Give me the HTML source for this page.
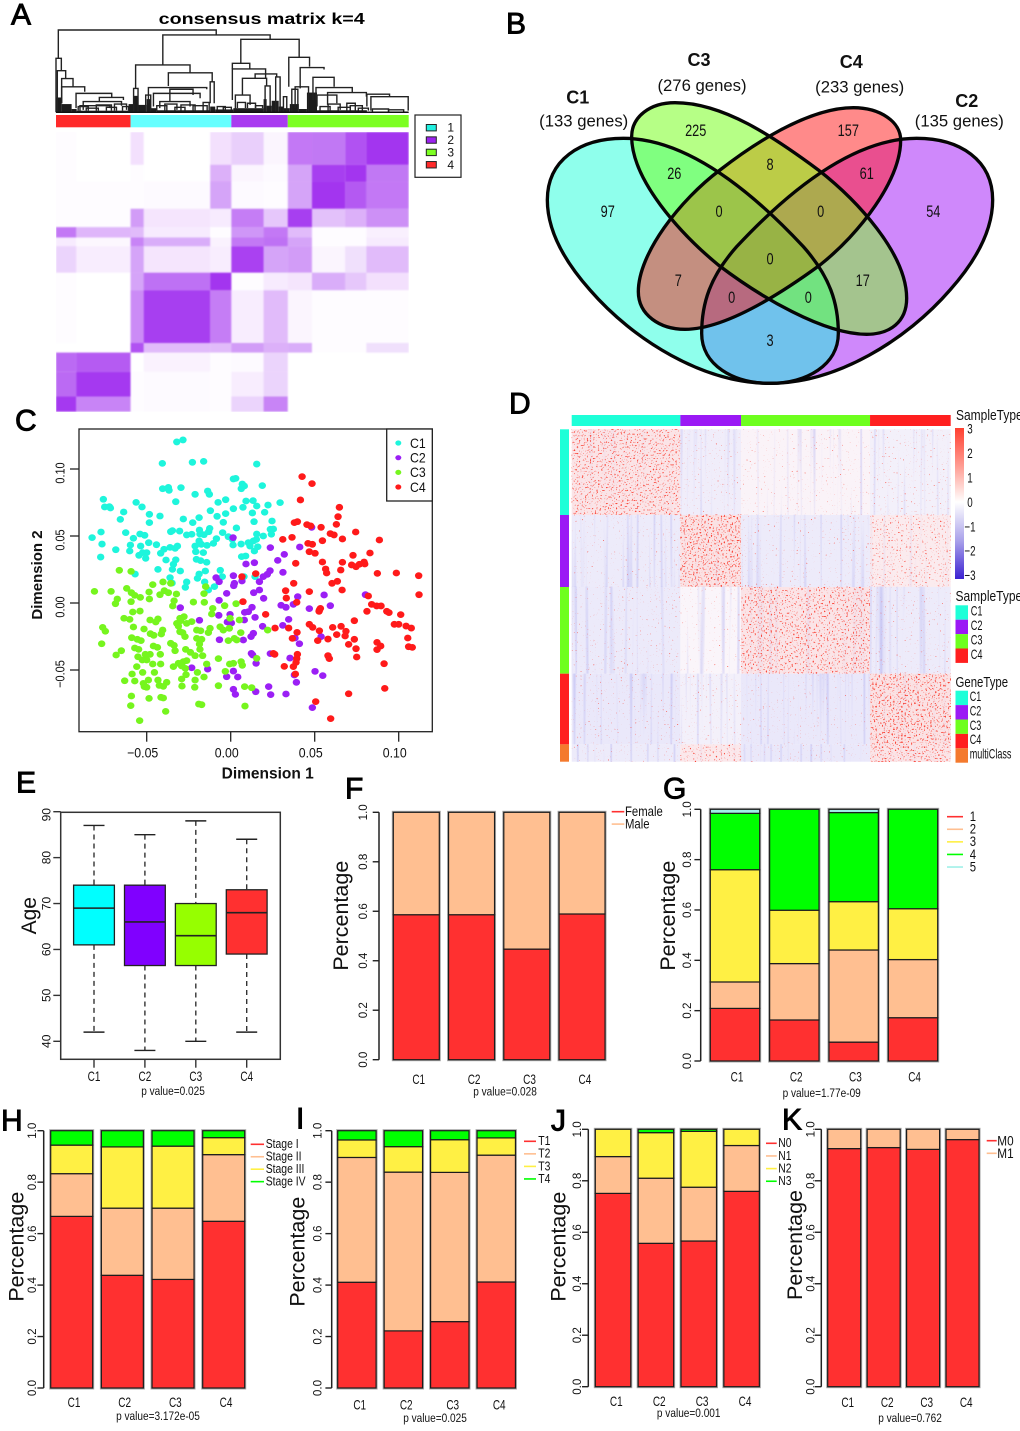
<!DOCTYPE html>
<html lang="en">
<head>
<meta charset="utf-8">
<title>Consensus clustering figure</title>
<style>
html,body{margin:0;padding:0;background:#fff;}
svg{display:block;font-family:"Liberation Sans",sans-serif;}
.letter{font-size:30px;fill:#000;stroke:#000;stroke-width:.9px;dominant-baseline:central;}
</style>
</head>
<body>
<svg id="fig" xmlns="http://www.w3.org/2000/svg" width="1020" height="1431" viewBox="0 0 1020 1431">
  <defs id="defs">
    <linearGradient id="cbar" x1="0" y1="0" x2="0" y2="1">
      <stop offset="0" stop-color="#ff4030"/>
      <stop offset=".25" stop-color="#ff9c92"/>
      <stop offset=".49" stop-color="#ffffff"/>
      <stop offset=".75" stop-color="#a8a0ea"/>
      <stop offset="1" stop-color="#3c22d2"/>
    </linearGradient>
    <filter id="soft" x="0" y="0" width="1" height="1"><feGaussianBlur stdDeviation=".7"/></filter>
  </defs>
  <rect x="0" y="0" width="1020" height="1431" fill="#fff"/>

  <text class="letter" x="11" y="15">A</text>
  <text class="letter" x="506" y="24">B</text>
  <text class="letter" x="15" y="421">C</text>
  <text class="letter" x="509" y="404">D</text>
  <text class="letter" x="16" y="783">E</text>
  <text class="letter" x="345" y="789">F</text>
  <text class="letter" x="663" y="789">G</text>
  <text class="letter" x="1" y="1121">H</text>
  <text class="letter" x="296" y="1119">I</text>
  <text class="letter" x="551" y="1121">J</text>
  <text class="letter" x="782" y="1120">K</text>

  <g id="panelA">
    <text x="261.7" y="19.5" text-anchor="middle" font-weight="bold" font-size="16" textLength="206" lengthAdjust="spacingAndGlyphs" dominant-baseline="central">consensus matrix k=4</text>
  </g>
  <g id="panelB"></g>
  <g id="panelC"></g>
  <g id="panelD"></g>
  <g id="panelE"></g>
  <g id="panelF"></g>
  <g id="panelG"></g>
  <g id="panelH"></g>
  <g id="panelI"></g>
  <g id="panelJ"></g>
  <g id="panelK"></g>
</svg>

<script>
/* ---------- data: shared ---------- */
const clusterLabels = ['C1', 'C2', 'C3', 'C4'];
const percentTicks = [0, 0.2, 0.4, 0.6, 0.8, 1];
const percentTickLabels = ['0.0', '0.2', '0.4', '0.6', '0.8', '1.0'];

/* ---------- data: panel A ---------- */
const consensusColumnEdges = [0, 20, 74, 87, 153, 174, 206, 230, 254, 287, 308, 350];
const consensusRowEdges = [0, 41, 62, 96, 119, 132, 143, 176, 198, 264, 276, 300, 331, 350];
const consensusRow0 = [.01, 0, .12, 0, .12, .22, .04, .6, .62, .78, .92];
const consensusRow1 = [.01, 0, .01, 0, .35, .04, .02, .42, .88, .92, .62];
const consensusRow2 = [.01, .01, .01, .02, .42, .02, .01, .42, .92, .75, .6];
const consensusRow3 = [.01, .01, .45, .1, .08, .58, .25, .88, .28, .35, .5];
const consensusRow4 = [.6, .32, .3, .08, .01, .48, .6, .3, .01, .01, .06];
const consensusRow5 = [.08, .03, .55, .38, .05, .6, .65, .42, .01, .01, .08];
const consensusRow6 = [.2, .07, .42, .1, .07, .85, .42, .45, .04, .15, .3];
const consensusRow7 = [.01, 0, .42, .65, .92, .01, .08, .1, .38, .25, .12];
const consensusRow8 = [.01, 0, .52, .88, .58, .07, .3, .04, .01, .01, .01];
const consensusRow9 = [0, 0, .78, .3, .3, .45, .35, .38, .01, .01, .15];
const consensusRow10 = [.68, .74, 0, .05, .01, .02, .2, 0, 0, 0, 0];
const consensusRow11 = [.68, .9, .01, .02, .01, .07, .2, 0, 0, 0, 0];
const consensusRow12 = [.9, .55, .01, .02, .01, .2, .55, 0, 0, 0, 0];
const consensusGroupEdges = [0, 74, 174, 230, 350];
const consensusGroupColors = ['#ff2a2a', '#66ffff', '#a93bf0', '#7dff22'];
const consensusLegendLabels = ['1', '2', '3', '4'];
const consensusLegendColors = ['#22f0e0', '#9b22ee', '#7dff22', '#ff2a2a'];
/* dendrogram merges: [left sample, right sample, merge height, left child height, right child height] */
const dendroMerges = [
  [2.3,159,100,65.6,94],[106,212.5,94,57.5,88.7],[183.4,241.3,88.7,59.5,66.8],[79,133,57.5,29,48],
  [111.5,155,48,32,37],[175,192.3,59.5,52.7,52.7],[175,208,52.7,15,41],[185,209,41.3,21,32],
  [197.6,219,46.6,41.3,42.5],[231,251.6,66.8,31,55.5],[242.3,266,54.3,29,52],[255,276,42.5,15,31],
  [258,294,30,15,24],[269.5,308,24,9,19],[308.5,331,22,7,19],[312.5,349.5,19,2,2],
  [0,5.3,65.6,0,50.6],[1.3,9.6,50.6,0,41.3],[5.6,16.9,41,11,31],[5.6,28.5,31,11,25],
  [19.9,55.3,23,5,18],[43,66.9,18,13,15],[27,65,13,3,8],[23.8,53.6,8,1,5],
  [91.7,149.6,30,11,28],[96.7,143,23,7,17],[113,136,28,13,21],[103,133,13,5,7],
  [77,81.4,29,0,0],[89,94,21,0,0],[153,157,37,11,11],[178,192.6,21,3,9],
  [207.5,212.5,32,0,7],[218,222.4,43,0,0],[225.7,229,19,0,0],[234,240,28,0,0],
  [237.3,250.6,31,5,0],[259,278.7,21,7,11],[288.6,297,11,0,0],
  [22,32,7,2,2],[30,42,5,2,2],[40,55,9,2,2],[50,60,6,2,2],[58,70,10,2,3],[66,72,7,2,2],
  [100,110,8,2,2],[108,120,10,2,3],[118,128,6,2,2],[124,138,9,2,2],[136,150,8,2,2],[146,152,12,2,2],
  [160,168,7,3,3],[166,174,6,3,3],[180,188,12,5,5],[190,198,11,5,5],[198,205,8,5,5],
  [262,272,7,2,2],[270,282,10,2,3],[280,292,6,2,2],[292,304,8,2,2],[300,310,5,2,2],
  [314,330,4,1,1],[330,345,3,1,1]
];
/* dense low merges: [start sample, end sample, height] */
const dendroFine = [
  [0,5.6,18],[5.6,15.5,10],[15.5,20.5,4],[20.5,72,2],[72,77,10],[77,81.4,20],[81.4,90,9],[90,94,16],
  [94,100,5],[100,153,2.5],[153,158,7],[158,176,3.5],[176,206,5],[206,209,16],[209,214,8],[214,221,14],
  [221,226,7],[226,232,5],[232,241,10],[241,249,4],[249,259,24],[259,308.5,2.5],[308.5,349.5,1]
];

/* ---------- data: panel B ---------- */
const vennRegionSets = [
  ['C1'], ['C2'], ['C3'], ['C4'],
  ['C1','C3'], ['C3','C4'], ['C4','C2'], ['C1','C4'], ['C3','C2'], ['C1','C2'],
  ['C1','C3','C4'], ['C3','C4','C2'], ['C1','C4','C2'], ['C1','C3','C2'],
  ['C1','C3','C4','C2']
];
const vennRegionCounts = [97, 54, 225, 157, 26, 8, 61, 7, 17, 3, 0, 0, 0, 0, 0];
const vennRegionColors = ['#8fffec','#cf88fb','#b6ff86','#ff8a8a','#80ff80','#bccc47','#e94f8f','#c48f80','#a4c48e','#70c2ec','#9cc54a','#ada94f','#b76a7f','#72e280','#98b345'];
const vennSetNames = ['C1', 'C3', 'C4', 'C2'];
const vennSetSizes = [133, 276, 233, 135];

/* ---------- data: panel C, in thousandths of a dimension unit, [dimension 1, dimension 2] ---------- */
const c1Points = [[-32.1,120.2],[-28.4,121.7],[-40.7,104.2],[-22.8,105],[-16.1,105.7],[15.5,103.7],[1.6,92.6],[3,93],[6.9,88.8],[8.1,87.3],[6.3,85.3],[18.8,87.6],[-40.5,85.3],[-37.1,86.3],[-36.7,84.1],[-29.6,86.1],[-21.2,81.1],[-13.7,83.6],[-12.7,81.1],[-32.7,75.6],[-7.5,75.1],[-3,77.1],[9.1,76.1],[13.3,76.4],[15.5,72.4],[22.2,73.1],[29.4,74.9],[-75.8,77.4],[-75,71.7],[-72.2,71.9],[-71.6,70.9],[-63.7,67.9],[-65.7,62.4],[-56.3,75.1],[-52.8,71.7],[-48.4,66.2],[-42.1,64.9],[-48.4,60],[-28.2,62.7],[-22.6,60],[-18.8,63.7],[-12.1,68.9],[-8.1,64.7],[-3,66.7],[1.6,70.4],[7.3,71.4],[12.9,67.2],[20.2,67.7],[13.9,60.7],[24.6,61.2],[-4.4,60.2],[-77.2,53],[-82.5,48.8],[-76.6,44],[-77.4,34.3],[-68.4,39.8],[-62.5,52.5],[-57.9,48.3],[-54,51.5],[-51.2,50.5],[-48.8,45],[-44.2,43.5],[-59.7,43.3],[-60.1,38.8],[-53.6,42.5],[-52.4,37.6],[-50,37.6],[-54.6,35.6],[-50.6,33.3],[-41.7,37.1],[-39.7,40.1],[-36.1,41.5],[-31.7,42.5],[-33.1,40.8],[-35.7,53.2],[-34.7,54],[-30.4,53.7],[-26.2,50.8],[-23.2,51.3],[-18.6,54.5],[-18.3,51.5],[-15.9,51],[-12.5,55.7],[-13.1,53.2],[-8.5,48],[-4.8,52.5],[-1.4,49.5],[3.4,56],[23.6,55],[25.4,55.2],[24.2,51.3],[15.5,51.5],[15.3,47.5],[19.4,50],[13.5,46.3],[-18.8,46.3],[-17.5,43.8],[-21.2,42.5],[-14.1,43],[-10.3,44.5],[-16.3,37.6],[-20.8,38.3],[-20.4,32.6],[-17.9,31.6],[-14.3,30.4],[-38.5,32.1],[-32.7,32.3],[-34.1,28.9],[-43.3,25.1],[-34.7,25.1],[-30,23.9],[-56.9,21.6],[-36.1,18.9],[-34.9,14.9],[-26.2,15.7],[-27,11.7],[-18.8,21.6],[-19.8,18.4],[-15.5,15.7],[-15.1,23.9],[-13.3,9.7],[-9.7,12.2],[-6.2,24.4],[-5,19.7],[7.9,19.7],[14.5,19.7],[1.4,43.3],[6.2,44],[10.5,45],[11.5,42.5],[16.1,42],[14.1,38.8],[6.5,34.6],[8.9,35.1],[1,47.5]];
const c2Points = [[1.4,48.8],[48.2,56.5],[23.6,41.3],[41.1,41.8],[31.9,36.3],[28,31.8],[14.1,30.1],[9.1,29.1],[31.1,22.9],[23.4,24.1],[21.8,21.4],[19.4,19.7],[17.1,15.9],[1.6,20.4],[6.7,16.4],[2.2,14.7],[1.8,12.9],[-8.7,18.9],[-6.9,15.9],[-2.4,7.2],[13.7,7.7],[17.1,9.7],[19.6,3.5],[39.9,4.7],[55.6,6],[80.2,6.2],[-6.9,2],[-30,-3.5],[-18.6,-12.9],[-.4,-8.5],[-2,-14.2],[.4,-14.9],[-7.1,-9.2],[8.3,-7],[10.5,-6.5],[12.7,-3.2],[8.1,-12.7],[14.5,-10.7],[30,-1.7],[32.9,-3.2],[37.3,-1],[46.8,-4.2],[59.3,-2],[34.5,-12.2],[31,-16.7],[19,-17.4],[13.5,-22.6],[12.1,-25.1],[7.5,-27.6],[-6.7,-27.4],[38.3,-26.1],[40.9,-30.4],[53.8,-25.1],[12.3,-37.6],[13.1,-38.8],[23.6,-37.8],[35.3,-41.1],[15.1,-45],[-23.2,-48.3],[-13.7,-49.3],[1.6,-50.8],[-2.4,-55],[4.2,-55.2],[37.9,-53.7],[39.1,-59.2],[50.2,-51],[54.8,-54.2],[1.6,-64.4],[2.8,-68.2],[14.9,-66.2],[22.6,-62.4],[23.8,-68.4],[32.9,-67.9],[48.6,-78.1]];
const c3Points = [[-66.3,24.4],[-59.3,23.6],[-81.1,8.7],[-71.2,8.7],[-61.9,10.9],[-59.1,7.7],[-57.1,5.7],[-53.8,4.2],[-67.5,3],[-68.6,-.5],[-59.3,1],[-48.6,8.2],[-46.4,13.7],[-40.3,15.7],[-35.7,14.7],[-39.5,9.2],[-37.1,7.7],[-42.1,6.2],[-48.4,3],[-32.3,6.7],[-33.7,1.7],[-34.5,-2.2],[-22.2,.7],[-15.7,.5],[-15.9,7],[-14.9,12.2],[-10.7,-4],[-3.6,-2],[3.2,-.5],[-11.3,-8.2],[-58.3,-6.7],[-54,-6],[-63.5,-11.4],[-60.1,-12.2],[-48,-12.7],[-43.3,-11.9],[-44.6,-14.2],[-57.9,-17.9],[-51.6,-19.4],[-47.8,-22.9],[-45.8,-24.1],[-40.5,-20.2],[-41.3,-23.1],[-76.2,-18.2],[-74.6,-21.1],[-76.8,-30.4],[-65.1,-35.6],[-68.2,-38.8],[-58.9,-25.9],[-55.6,-27.1],[-53.4,-28.1],[-57.1,-33.6],[-54.8,-34.6],[-46,-32.1],[-43.6,-33.1],[-35.7,-30.1],[-33.7,-31.6],[-33.1,-35.6],[-41.9,-38.3],[-26.8,-34.6],[-24,-36.8],[-21.2,-39.3],[-16.7,-39.3],[-55.2,-40.1],[-50.8,-38.3],[-48,-38.3],[-52.6,-42.5],[-50,-42.5],[-46.4,-45.5],[-41.7,-45.5],[-55.9,-47.5],[-52.4,-51.8],[-58.7,-53],[-63.1,-58],[-57.1,-58.2],[-52,-60],[-49,-57.5],[-45.4,-51.8],[-43.3,-57.5],[-38.1,-59.2],[-42.5,-61.5],[-40.1,-62.2],[-51.4,-62.4],[-50,-62.9],[-59.1,-69.4],[-48.6,-71.2],[-41.5,-70.4],[-40.1,-70.9],[-59.5,-76.6],[-54.2,-87.8],[-38.7,-80.9],[-19,-75.4],[-17.3,-75.9],[8.5,-76.9],[-29,-62],[-21.2,-57.5],[-21.4,-62.9],[-29.2,-56.7],[-26.6,-53.5],[-19.8,-51.8],[-15.9,-55.2],[-34.1,-47.5],[-31.1,-45],[-28.2,-43.8],[-26.2,-43],[-29.2,-47],[-27,-48.8],[-14.3,-45.5],[-7.3,-41.5],[-.6,-45.5],[1.6,-45],[6.2,-43.8],[6.9,-46.5],[-3.2,-51],[8.3,-62.4],[12.5,-63.2],[-7.3,-61.7],[-32.1,-15.2],[-30.2,-11.4],[-27.8,-10.2],[-31.1,-17.2],[-28.6,-22.1],[-29.8,-13.2],[-26.2,-15.2],[-23.2,-13.9],[-20.2,-20.2],[-17.9,-20.7],[-30.2,-21.4],[-27.2,-25.1],[-20.2,-26.4],[-17.3,-27.1],[-18.6,-30.6],[-18.3,-34.6],[-12.3,-18.9],[-13.3,-22.1],[-6.3,-17.7],[-4.4,-20.2],[-.8,-18.9],[-1.4,-28.1],[2.2,-26.4],[3.6,-27.6],[6,-22.1],[5.2,-12.7],[-.4,-11.4],[22,-20.2],[15.5,-41.3]];
const c4Points = [[42.5,94.3],[48.4,89.1],[41.5,76.9],[64.7,71.4],[63.9,64.4],[62.9,58.7],[37.9,60],[39.7,60.7],[45.4,58.5],[47.6,57.5],[53.8,56.5],[74.4,53],[59.3,51.8],[61.5,50.8],[66.5,47.8],[88.5,47],[31,47.5],[36.5,49],[54.6,46.5],[46,44.5],[48.6,43.8],[46.8,38.3],[50.2,37.1],[54.6,30.6],[38.7,29.6],[72.8,35.6],[82.9,37.3],[56.5,25.4],[57.1,22.4],[66.5,30.4],[72,28.4],[74.6,27.1],[76.6,28.9],[79.4,30.6],[79.8,29.1],[65.5,24.6],[87.3,22.1],[98.6,22.4],[111.9,20.4],[112.1,6.2],[14.9,21.9],[6.7,19.7],[37.5,14.7],[60.3,14.7],[63.5,16.2],[32.7,9.2],[33.1,3.7],[46.8,8.5],[66.3,9.7],[39.3,.5],[7.3,1],[81.9,5.2],[83.9,-1],[86.9,-2.2],[89.5,-2.2],[81.1,-6.2],[52.8,-5.2],[53.4,-4],[52.6,-6.2],[20.8,-8.5],[92.9,-6.2],[94.2,-7.2],[101.2,-8.7],[73.6,-13.2],[97.4,-15.9],[100,-15.9],[104.4,-17.2],[107.5,-18.7],[46.8,-15.9],[48.8,-18.2],[52.8,-20.7],[60.7,-18.2],[65.7,-17.4],[68.6,-21.1],[68.1,-24.6],[63.1,-23.6],[26.4,-18.7],[34.5,-18.7],[39.5,-21.9],[36.7,-26.4],[51.8,-28.1],[57.9,-26.9],[73.6,-27.1],[70.2,-30.9],[74.6,-34.1],[87.1,-29.4],[89.3,-32.1],[87.1,-34.8],[105.4,-26.1],[105.9,-32.6],[108.1,-33.1],[75,-40.3],[57.9,-39.3],[58.7,-41.5],[39.7,-38.3],[39.3,-41.5],[38.9,-44.3],[37.3,-47.5],[31.9,-47.3],[25.4,-37.6],[26.2,-38.3],[38.5,-53],[91.3,-45.3],[91.7,-63.7],[70.2,-67.7],[50.6,-73.6],[59.5,-86.3]];
const scatterXTicks = [-50, 0, 50, 100];
const scatterXTickLabels = ['\u22120.05', '0.00', '0.05', '0.10'];
const scatterYTicks = [-50, 0, 50, 100];
const scatterYTickLabels = ['\u22120.05', '0.00', '0.05', '0.10'];

/* ---------- data: panel D ---------- */
const heatSampleSizes = [326, 182, 387, 242];
const heatGeneSizes = [257, 216, 260, 212, 52];
const heatRowC1 = [.8, -.2, .1, -.1];
const heatRowC2 = [-.3, .9, -.3, .5];
const heatRowC3 = [-.35, 0, .8, -.3];
const heatRowC4 = [-.4, -.1, -.4, .9];
const heatRowMulti = [-.3, .6, -.4, .8];
const heatScaleLabels = ['3', '2', '1', '0', '\u22121', '\u22122', '\u22123'];
const heatScaleValues = [3, 2, 1, 0, -1, -2, -3];

/* ---------- data: panel E ---------- */
const ageLow = [42, 38, 40, 42];
const ageQ1 = [61, 56.5, 56.5, 59];
const ageMedian = [69, 66, 63, 68];
const ageQ3 = [74, 74, 70, 73];
const ageHigh = [87, 85, 88, 84];
const ageTicks = [40, 50, 60, 70, 80, 90];

/* ---------- data: stacked bars ---------- */
const genderFemale = [.586, .586, .447, .589];
const genderMale = [.414, .414, .553, .411];
const grade1 = [.209, .163, .075, .172];
const grade2 = [.105, .224, .366, .231];
const grade3 = [.446, .212, .192, .202];
const grade4 = [.224, .401, .354, .395];
const grade5 = [.016, 0, .013, 0];
const stage1 = [.667, .438, .422, .648];
const stage2 = [.166, .261, .277, .259];
const stage3 = [.111, .238, .241, .066];
const stage4 = [.056, .063, .060, .027];
const tStage1 = [.411, .222, .258, .412];
const tStage2 = [.485, .617, .580, .493];
const tStage3 = [.068, .099, .127, .067];
const tStage4 = [.036, .062, .035, .028];
const nStage0 = [.751, .557, .566, .759];
const nStage1 = [.143, .253, .209, .178];
const nStage2 = [.106, .177, .217, .063];
const nStage3 = [0, .013, .008, 0];
const mStage0 = [.925, .929, .922, .960];
const mStage1 = [.075, .071, .078, .040];
const pValueGender = 'p value=0.028';
const pValueGrade = 'p value=1.77e-09';
const pValueStage = 'p value=3.172e-05';
const pValueT = 'p value=0.025';
const pValueN = 'p value=0.001';
const pValueM = 'p value=0.762';
const pValueAge = 'p value=0.025';

/* ---------- helpers ---------- */
const NS = 'http://www.w3.org/2000/svg';
const RED = '#ff3030', PEACH = '#ffbf91', YELLOW = '#fff044', GREEN = '#00ff00', AQUA = '#a0f0e8';

function mk(parent, tag, attrs, name) {
  const el = document.createElementNS(NS, tag);
  for (const k in attrs) el.setAttribute(k, attrs[k]);
  
  
  parent.appendChild(el);
  return el;
}
function txt(parent, x, y, str, name, o) {
  o = o || {};
  let t = 'translate(' + x + ',' + y + ')';
  if (o.rot) t += ' rotate(' + o.rot + ')';
  if (o.sx) t += ' scale(' + o.sx + ',1)';
  const attrs = {
    transform: t,
    'font-size': o.size || 12,
    'text-anchor': o.anchor || 'middle',
    'dominant-baseline': 'central',
    fill: o.fill || '#111'
  };
  if (o.weight) attrs['font-weight'] = o.weight;
  const el = mk(parent, 'text', attrs, name);
  el.textContent = str;
  return el;
}
function line(parent, x1, y1, x2, y2, name, stroke, w, dash) {
  const a = { x1: x1, y1: y1, x2: x2, y2: y2, stroke: stroke || '#222', 'stroke-width': w || 1.3 };
  if (dash) a['stroke-dasharray'] = dash;
  return mk(parent, 'line', a, name);
}
function byId(id) { return document.getElementById(id); }

/* ---------- panel A ---------- */
(function () {
  const g = byId('panelA');
  const rows = [consensusRow0, consensusRow1, consensusRow2, consensusRow3, consensusRow4, consensusRow5, consensusRow6, consensusRow7, consensusRow8, consensusRow9, consensusRow10, consensusRow11, consensusRow12];
  const sx = s => 56 + s / 350 * 352.7;
  const sy = s => 132 + s / 350 * 279.7;
  const hy = h => 112.3 - h * 0.823;
  const dendro = mk(g, 'g', {}, 'dendrogram');
  dendroFine.forEach(function (d) {
    mk(dendro, 'rect', { x: sx(d[0]), y: hy(d[2]), width: sx(d[1]) - sx(d[0]), height: hy(0) - hy(d[2]), fill: '#1c1c1c' }, 'dendrogram-low-merges');
  });
  dendroMerges.forEach(function (m) {
    const d = 'M' + sx(m[0]) + ' ' + hy(m[3]) + 'V' + hy(m[2]) + 'H' + sx(m[1]) + 'V' + hy(m[4]);
    mk(dendro, 'path', { d: d, fill: 'none', stroke: '#222', 'stroke-width': 1.4 }, 'dendrogram-merge');
  });
  line(dendro, sx(0), hy(0), sx(350), hy(0), 'dendrogram-baseline', '#111', 1.4);
  consensusGroupColors.forEach(function (c, i) {
    mk(g, 'rect', { x: sx(consensusGroupEdges[i]), y: 115, width: sx(consensusGroupEdges[i + 1]) - sx(consensusGroupEdges[i]), height: 12.3, fill: c }, 'consensus-group-bar');
  });
  const cells = mk(g, 'g', { filter: 'url(#soft)' }, 'consensus-heatmap');
  rows.forEach(function (row, r) {
    row.forEach(function (v, c) {
      const x = sx(consensusColumnEdges[c]), y = sy(consensusRowEdges[r]);
      mk(cells, 'rect', { x: x, y: y, width: sx(consensusColumnEdges[c + 1]) - x, height: sy(consensusRowEdges[r + 1]) - y, fill: '#9b22ee', 'fill-opacity': Math.min(1, v) }, 'consensus-cell');
    });
  });
  const lg = mk(g, 'g', {}, 'consensus-legend');
  mk(lg, 'rect', { x: 415, y: 115, width: 46, height: 62.3, fill: '#fff', stroke: '#222', 'stroke-width': 1.2 }, 'consensus-legend-box');
  consensusLegendLabels.forEach(function (l, i) {
    const cy = 127.7 + i * 12.35;
    mk(lg, 'rect', { x: 426.3, y: cy - 3.2, width: 10, height: 6.4, fill: consensusLegendColors[i], stroke: '#222', 'stroke-width': 1 }, 'consensus-legend-swatch');
    txt(lg, 450.7, cy, l, 'consensus-legend-label', { size: 12 });
  });
})();

/* ---------- panel B ---------- */
(function () {
  const g = byId('panelB');
  const paths = {
    C1: 'M172 600C172 480 270 415 400 415C600 415 800 590 940 740C1020 830 1045 910 1045 1000C1045 1095 950 1150 840 1150C640 1150 430 1020 300 870C220 780 172 690 172 600Z',
    C2: 'M1508 600C1508 480 1410 415 1280 415C1080 415 880 590 740 740C660 830 635 910 635 1000C635 1095 730 1150 840 1150C1040 1150 1250 1020 1380 870C1460 780 1508 690 1508 600Z',
    C3: 'M425 410C425 350 480 308 555 308C700 308 850 410 985 510C1100 600 1250 760 1250 895C1250 965 1200 1003 1130 1003C1000 1003 810 890 685 795C570 700 425 540 425 410Z',
    C4: 'M1232 420C1232 365 1170 323 1090 323C950 323 780 440 690 510C570 600 445 760 445 875C445 945 510 988 585 988C700 988 860 890 990 795C1110 700 1232 540 1232 420Z'
  };
  const defs = byId('defs');
  Object.keys(paths).forEach(function (k) {
    const cp = document.createElementNS(NS, 'clipPath');
    cp.setAttribute('id', 'clip' + k);
    const p = document.createElementNS(NS, 'path');
    p.setAttribute('d', paths[k]);
    cp.appendChild(p);
    defs.appendChild(cp);
  });
  const art = mk(g, 'g', { transform: 'translate(490,0) scale(0.33333)' }, 'venn-shapes');
  vennRegionSets.forEach(function (sets, i) {
    let host = art;
    sets.forEach(function (s) {
      host = mk(host, 'g', { 'clip-path': 'url(#clip' + s + ')' }, 'venn-region-clip');
    });
    mk(host, 'rect', { x: 0, y: 200, width: 1700, height: 1000, fill: vennRegionColors[i] }, 'venn-region-' + sets.join('-').toLowerCase());
  });
  Object.keys(paths).forEach(function (k) {
    mk(art, 'path', { d: paths[k], fill: 'none', stroke: '#050505', 'stroke-width': 10 }, 'venn-outline-' + k.toLowerCase());
  });
  const countPos = [[607.7,212],[933.3,212],[695.7,130.7],[848.3,130.7],[674.3,173.7],[770,164.7],[866.7,173.7],[678.3,281],[862.7,281],[770,340.7],[719,212],[820.7,212],[731.7,297.7],[808.3,297.7],[770,259.3]];
  vennRegionCounts.forEach(function (c, i) {
    txt(g, countPos[i][0], countPos[i][1], String(c), 'venn-count', { size: 17, sx: .75 });
  });
  const titlePos = [[577.7,97.7,583.7,121],[699,60,702,85.3],[851.3,62,859.7,87],[966.7,101,959.3,121]];
  vennSetNames.forEach(function (n, i) {
    txt(g, titlePos[i][0], titlePos[i][1], n, 'venn-set-title', { size: 18, weight: 'bold' });
    txt(g, titlePos[i][2], titlePos[i][3], '(' + vennSetSizes[i] + ' genes)', 'venn-set-size', { size: 16.7 });
  });
})();

/* ---------- panel C ---------- */
(function () {
  const g = byId('panelC');
  const xC = v => 230.7 + v * 1.68;
  const yC = v => 603 - v * 1.34;
  const colors = ['#1ef5dc', '#9b1ff5', '#76f51e', '#ff1a1a'];
  const clusters = [c1Points, c2Points, c3Points, c4Points];
  clusters.forEach(function (pts, i) {
    const layer = mk(g, 'g', {}, 'scatter-cluster-' + clusterLabels[i].toLowerCase());
    pts.forEach(function (p) {
      mk(layer, 'ellipse', { cx: xC(p[0]), cy: yC(p[1]), rx: 3.7, ry: 3.4, fill: colors[i] }, 'scatter-point');
    });
  });
  mk(g, 'rect', { x: 79, y: 429, width: 353.3, height: 302.7, fill: 'none', stroke: '#222', 'stroke-width': 1.3 }, 'scatter-plot-frame');
  scatterXTicks.forEach(function (t, i) {
    line(g, xC(t), 731.7, xC(t), 741.7, 'x-axis-tick');
    txt(g, xC(t) - 4, 752.7, scatterXTickLabels[i], 'x-axis-tick-label', { size: 14, sx: .88 });
  });
  scatterYTicks.forEach(function (t, i) {
    line(g, 70, yC(t), 79, yC(t), 'y-axis-tick');
    txt(g, 60, yC(t) + 4, scatterYTickLabels[i], 'y-axis-tick-label', { size: 13, rot: -90, sx: .84 });
  });
  txt(g, 267.7, 774, 'Dimension 1', 'x-axis-title', { size: 15.5, weight: 'bold' });
  txt(g, 37.3, 575, 'Dimension 2', 'y-axis-title', { size: 15, weight: 'bold', rot: -90 });
  const lg = mk(g, 'g', {}, 'scatter-legend');
  mk(lg, 'rect', { x: 386.7, y: 429, width: 45.6, height: 72, fill: '#fff', stroke: '#222', 'stroke-width': 1.3 }, 'scatter-legend-box');
  clusterLabels.forEach(function (l, i) {
    const cy = 443 + i * 14.67;
    mk(lg, 'ellipse', { cx: 398.3, cy: cy, rx: 3, ry: 2.6, fill: colors[i] }, 'scatter-legend-marker');
    txt(lg, 410, cy, l, 'scatter-legend-label', { size: 14, anchor: 'start', sx: .88 });
  });
})();

/* ---------- panel D ---------- */
(function () {
  const g = byId('panelD');
  const sampleTotal = heatSampleSizes.reduce((a, b) => a + b, 0);
  const geneTotal = heatGeneSizes.reduce((a, b) => a + b, 0);
  const xD = s => 571.7 + s / sampleTotal * 379;
  const yD = s => 429.3 + s / geneTotal * 332.4;
  const rows = [heatRowC1, heatRowC2, heatRowC3, heatRowC4, heatRowMulti];
  const colors = ['#1effd8', '#9b19f5', '#6eff1e', '#ff1f1f', '#f47a2e'];
  const defs = byId('defs');
  function baseColor(v) {
    const mix = (a, b, t) => Math.round(a + (b - a) * t);
    if (v >= 0) {
      const t = v * .22;
      return 'rgb(' + mix(250, 255, t) + ',' + mix(245, 150, t) + ',' + mix(250, 140, t) + ')';
    }
    const t = Math.min(1, -v * 1.5);
    return 'rgb(' + mix(246, 226, t) + ',' + mix(242, 226, t) + ',' + mix(250, 250, t) + ')';
  }
  let ry = 0;
  rows.forEach(function (row, r) {
    let cx = 0;
    const h = heatGeneSizes[r];
    row.forEach(function (v, c) {
      const w = heatSampleSizes[c];
      const id = 'speckle' + r + '-' + c;
      const threshold = Math.min(.7, .73 - v * .17);
      const stripe = v > .3 ? .5 : 1.6;
      const f = document.createElementNS(NS, 'filter');
      f.setAttribute('id', id);
      f.setAttribute('x', '0');
      f.setAttribute('y', '0');
      f.setAttribute('width', '1');
      f.setAttribute('height', '1');
      f.setAttribute('color-interpolation-filters', 'sRGB');
      f.innerHTML = '<feTurbulence type="fractalNoise" baseFrequency="0.62" numOctaves="1" seed="' + (r * 7 + c * 3 + 2) + '" result="n"/>' +
        '<feColorMatrix in="n" type="matrix" values="0 0 0 0 .98  0 0 0 0 .27  0 0 0 0 .22  8 0 0 0 ' + (-8 * threshold).toFixed(3) + '" result="s0"/>' +
        '<feGaussianBlur in="s0" stdDeviation=".3" result="s"/>' +
        '<feTurbulence type="fractalNoise" baseFrequency="0.3 0.004" numOctaves="1" seed="' + (r * 5 + c + 11) + '" result="b"/>' +
        '<feColorMatrix in="b" type="matrix" values="0 0 0 0 .62  0 0 0 0 .62  0 0 0 0 .93  ' + stripe + ' 0 0 0 ' + (-.55 * stripe).toFixed(3) + '" result="t"/>' +
        '<feMerge><feMergeNode in="SourceGraphic"/><feMergeNode in="t"/><feMergeNode in="s"/></feMerge>';
      defs.appendChild(f);
      mk(g, 'rect', { x: xD(cx), y: yD(ry), width: xD(cx + w) - xD(cx), height: yD(ry + h) - yD(ry), fill: baseColor(v), filter: 'url(#' + id + ')' }, 'heatmap-block');
      cx += w;
    });
    mk(g, 'rect', { x: 560, y: yD(ry), width: 9, height: yD(ry + h) - yD(ry), fill: colors[r] }, 'gene-type-bar');
    ry += h;
  });
  let cx = 0;
  heatSampleSizes.forEach(function (w, c) {
    mk(g, 'rect', { x: xD(cx), y: 415, width: xD(cx + w) - xD(cx), height: 11, fill: colors[c] }, 'sample-type-bar');
    cx += w;
  });
  const lx = 955.5;
  txt(g, 956, 415, 'SampleType', 'colorbar-title', { size: 15, anchor: 'start', sx: .8 });
  mk(g, 'rect', { x: 955, y: 428, width: 9, height: 151, fill: 'url(#cbar)' }, 'colorbar');
  heatScaleLabels.forEach(function (l, i) {
    const yy = 502.3 - heatScaleValues[i] * 24.4;
    txt(g, 970, yy, l, 'colorbar-label', { size: 14, sx: .7 });
  });
  txt(g, 955.5, 596, 'SampleType', 'sample-legend-title', { size: 15, anchor: 'start', sx: .8 });
  clusterLabels.forEach(function (l, i) {
    const yy = 605.3 + i * 14.4;
    mk(g, 'rect', { x: lx, y: yy, width: 12.5, height: 14.4, fill: colors[i] }, 'sample-legend-swatch');
    txt(g, 970.7, yy + 6.8, l, 'sample-legend-label', { size: 13.5, anchor: 'start', sx: .68 });
  });
  txt(g, 955.5, 682, 'GeneType', 'gene-legend-title', { size: 15, anchor: 'start', sx: .76 });
  clusterLabels.concat(['multiClass']).forEach(function (l, i) {
    const yy = 690.7 + i * 14.4;
    mk(g, 'rect', { x: lx, y: yy, width: 12.5, height: 14.4, fill: colors[i] }, 'gene-legend-swatch');
    txt(g, 969.7, yy + 6.8, l, 'gene-legend-label', { size: 13.5, anchor: 'start', sx: .67 });
  });
})();

/* ---------- panel E ---------- */
(function () {
  const g = byId('panelE');
  const yE = v => 1041.3 - (v - 40) * 4.592;
  const xE = i => 94 + i * 50.9;
  const colors = ['#00ffff', '#8000ff', '#96ff00', '#ff3030'];
  mk(g, 'rect', { x: 60.7, y: 812.3, width: 219.6, height: 247, fill: '#fff', stroke: '#333', 'stroke-width': 1.5 }, 'boxplot-frame');
  clusterLabels.forEach(function (l, i) {
    const x = xE(i);
    line(g, x, yE(ageHigh[i]), x, yE(ageQ3[i]), 'box-upper-whisker', '#333', 1.4, '5 4');
    line(g, x, yE(ageQ1[i]), x, yE(ageLow[i]), 'box-lower-whisker', '#333', 1.4, '5 4');
    line(g, x - 10.5, yE(ageHigh[i]), x + 10.5, yE(ageHigh[i]), 'box-upper-cap', '#222', 1.4);
    line(g, x - 10.5, yE(ageLow[i]), x + 10.5, yE(ageLow[i]), 'box-lower-cap', '#222', 1.4);
    mk(g, 'rect', { x: x - 20.4, y: yE(ageQ3[i]), width: 40.8, height: yE(ageQ1[i]) - yE(ageQ3[i]), fill: colors[i], stroke: '#222', 'stroke-width': 1.3 }, 'box-' + l.toLowerCase());
    line(g, x - 20.4, yE(ageMedian[i]), x + 20.4, yE(ageMedian[i]), 'box-median', '#222', 1.6);
    line(g, x, 1059.3, x, 1067.7, 'x-axis-tick', '#333', 1.4);
    txt(g, x, 1076.7, l, 'x-axis-label', { size: 13.5, sx: .74 });
  });
  ageTicks.forEach(function (t) {
    line(g, 53.3, yE(t), 60.7, yE(t), 'y-axis-tick', '#333', 1.4);
    txt(g, 46.7, t === 90 ? yE(t) + 3 : yE(t), String(t), 'y-axis-label', { size: 12, rot: -90 });
  });
  txt(g, 29.3, 915.7, 'Age', 'y-axis-title', { size: 21, rot: -90 });
  txt(g, 173, 1092, pValueAge, 'p-value-label', { size: 12, sx: .84 });
})();

/* ---------- stacked bar panels ---------- */
function drawStack(g, series, colors, names, pValue, L) {
  const yS = v => L.y0 - v * (L.y0 - L.y1);
  const bars = mk(g, 'g', {}, 'stacked-bars');
  clusterLabels.forEach(function (cat, c) {
    let cum = 0;
    const x = L.barX + c * L.barStep;
    const total = series.reduce((a, s) => a + s[c], 0);
    mk(bars, 'rect', { x: x, y: yS(total), width: L.barW, height: yS(0) - yS(total), fill: 'none', stroke: '#a8a8a8', 'stroke-width': 3 }, 'bar-halo');
    series.forEach(function (s, k) {
      const v = s[c];
      if (v > 0) {
        mk(bars, 'rect', { x: x, y: yS(cum + v), width: L.barW, height: yS(cum) - yS(cum + v), fill: colors[k], stroke: '#1c1c1c', 'stroke-width': 1.2 }, 'bar-' + cat.toLowerCase() + '-' + names[k].toLowerCase().replace(/\s+/g, '-'));
      }
      cum += v;
    });
    txt(g, L.catX + c * L.catStep, L.catY, cat, 'x-axis-label', { size: 13.5, sx: .74 });
  });
  line(g, L.axisX, yS(0), L.axisX, yS(1), 'y-axis-line', '#222', 1.5);
  percentTicks.forEach(function (t, i) {
    line(g, L.axisX - 6.3, yS(t), L.axisX, yS(t), 'y-axis-tick', '#222', 1.4);
    txt(g, L.labelX, yS(t), percentTickLabels[i], 'y-axis-label', { size: 11.6, rot: -90 });
  });
  txt(g, L.pctX, L.pctY, 'Percentage', 'y-axis-title', { size: 21.5, rot: -90 });
  txt(g, L.pX, L.pY, pValue, 'p-value-label', { size: 12, sx: .84 });
  const lg = mk(g, 'g', {}, 'legend');
  names.forEach(function (n, k) {
    const yy = L.legY + k * L.legDy;
    line(lg, L.legX1, yy, L.legX2, yy, 'legend-swatch', colors[k], 1.6);
    txt(lg, L.legTx, yy, n, 'legend-entry', { size: L.legSize, anchor: 'start', sx: L.legSx });
  });
}
drawStack(byId('panelF'), [genderFemale, genderMale], [RED, PEACH], ['Female', 'Male'], pValueGender,
  { y0: 1059.7, y1: 812.3, axisX: 379, labelX: 363.3, barX: 393.3, barW: 46, barStep: 55.25, catX: 418.7, catStep: 55.4, catY: 1079.3, pX: 505, pY: 1092.3, pctX: 341, pctY: 915.7, legX1: 611.7, legX2: 624.3, legTx: 625, legY: 811.7, legDy: 12.4, legSize: 13.5, legSx: .84 });
drawStack(byId('panelG'), [grade1, grade2, grade3, grade4, grade5], [RED, PEACH, YELLOW, GREEN, AQUA], ['1', '2', '3', '4', '5'], pValueGrade,
  { y0: 1061, y1: 809.3, axisX: 700.7, labelX: 687.7, barX: 710.3, barW: 49.4, barStep: 59.33, catX: 737, catStep: 59.2, catY: 1077, pX: 821.7, pY: 1094, pctX: 668, pctY: 915.7, legX1: 947, legX2: 963, legTx: 969.7, legY: 816.7, legDy: 12.58, legSize: 13.5, legSx: .84 });
drawStack(byId('panelH'), [stage1, stage2, stage3, stage4], [RED, PEACH, YELLOW, GREEN], ['Stage I', 'Stage II', 'Stage III', 'Stage IV'], pValueStage,
  { y0: 1388, y1: 1130.7, axisX: 43.7, labelX: 32.7, barX: 50.7, barW: 42, barStep: 50.67, catX: 74, catStep: 50.67, catY: 1402.7, pX: 158, pY: 1416.7, pctX: 16.7, pctY: 1246.7, legX1: 250.7, legX2: 264, legTx: 265.7, legY: 1144.3, legDy: 12.45, legSize: 13, legSx: .8 });
drawStack(byId('panelI'), [tStage1, tStage2, tStage3, tStage4], [RED, PEACH, YELLOW, GREEN], ['T1', 'T2', 'T3', 'T4'], pValueT,
  { y0: 1388, y1: 1130.7, axisX: 331.7, labelX: 318, barX: 337.7, barW: 38.4, barStep: 46.45, catX: 359.7, catStep: 46.5, catY: 1405, pX: 435, pY: 1419, pctX: 297.3, pctY: 1251.7, legX1: 524, legX2: 536, legTx: 538.3, legY: 1141.3, legDy: 12.55, legSize: 13, legSx: .8 });
drawStack(byId('panelJ'), [nStage0, nStage1, nStage2, nStage3], [RED, PEACH, YELLOW, GREEN], ['N0', 'N1', 'N2', 'N3'], pValueN,
  { y0: 1386.7, y1: 1129.3, axisX: 588.3, labelX: 577.3, barX: 595.3, barW: 35.5, barStep: 42.85, catX: 616.3, catStep: 42.9, catY: 1401.7, pX: 688.7, pY: 1414, pctX: 558.3, pctY: 1246.7, legX1: 766, legX2: 776.7, legTx: 778.3, legY: 1143.3, legDy: 12.65, legSize: 13, legSx: .8 });
drawStack(byId('panelK'), [mStage0, mStage1], [RED, PEACH], ['M0', 'M1'], pValueM,
  { y0: 1386.7, y1: 1129.3, axisX: 821.3, labelX: 811, barX: 827.7, barW: 33, barStep: 39.45, catX: 847.7, catStep: 39.5, catY: 1402.7, pX: 910, pY: 1418.7, pctX: 795, pctY: 1245, legX1: 986.7, legX2: 996.7, legTx: 997.3, legY: 1140.7, legDy: 12.6, legSize: 14, legSx: .84 });
</script>
</body>
</html>
